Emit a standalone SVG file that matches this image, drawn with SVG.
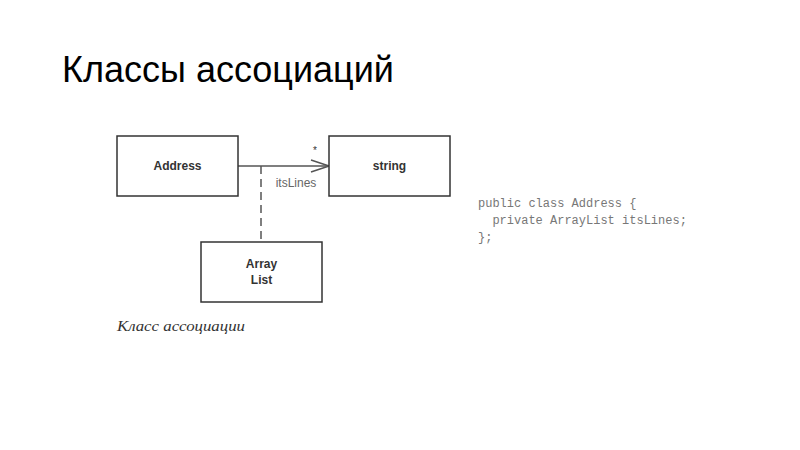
<svg xmlns="http://www.w3.org/2000/svg" width="800" height="450" viewBox="0 0 800 450">
<defs>
<style>
.box{fill:#fff;stroke:#333;stroke-width:1.5}
.lbl{font-family:"Liberation Sans Narrow","Liberation Sans",Arial,sans-serif;font-size:12px;font-weight:bold;fill:#333;text-anchor:middle}
.code{font-family:"Liberation Mono","DejaVu Sans Mono",monospace;font-size:12px;fill:#777}
.conn{stroke:#555;stroke-width:1.5;fill:none}
</style>
<marker id="open" viewBox="0 0 20 14" refX="19" refY="7" markerWidth="20" markerHeight="14" markerUnits="userSpaceOnUse" orient="auto">
<path d="M1,1 L19,7 L1,13" fill="none" stroke="#555" stroke-width="1.5"/>
</marker>
</defs>
<rect width="800" height="450" fill="#fff"/>
<text x="62" y="82" font-family="'Liberation Sans',Arial,sans-serif" font-size="36" fill="#000">Классы ассоциаций</text>
<g id="connectors">
<line class="conn" x1="238" y1="166" x2="329" y2="166" marker-end="url(#open)"/>
<line class="conn" x1="261" y1="166" x2="261" y2="242" stroke-dasharray="8,5"/>
<text x="315" y="154" font-family="'Liberation Sans',Arial,sans-serif" font-size="10" fill="#333" text-anchor="middle">*</text>
<text x="296" y="187" font-family="'Liberation Sans',Arial,sans-serif" font-size="12" fill="#666" text-anchor="middle">itsLines</text>
</g>
<g id="address">
<rect class="box" x="117" y="136" width="121" height="60"/>
<text class="lbl" x="177.5" y="170">Address</text>
</g>
<g id="string">
<rect class="box" x="329" y="136" width="121" height="60"/>
<text class="lbl" x="389.5" y="170">string</text>
</g>
<g id="arraylist">
<rect class="box" x="201" y="242" width="121" height="60"/>
<text class="lbl" x="261.5" y="268">Array</text>
<text class="lbl" x="261.5" y="284">List</text>
</g>
<text x="117" y="331" font-family="'Liberation Serif','Times New Roman',serif" font-style="italic" font-size="15" fill="#333" textLength="128" lengthAdjust="spacingAndGlyphs">Класс ассоциации</text>
<g id="code" class="code">
<text x="478" y="207">public class Address {</text>
<text x="478" y="224" xml:space="preserve">  private ArrayList itsLines;</text>
<text x="478" y="241">};</text>
</g>
</svg>
